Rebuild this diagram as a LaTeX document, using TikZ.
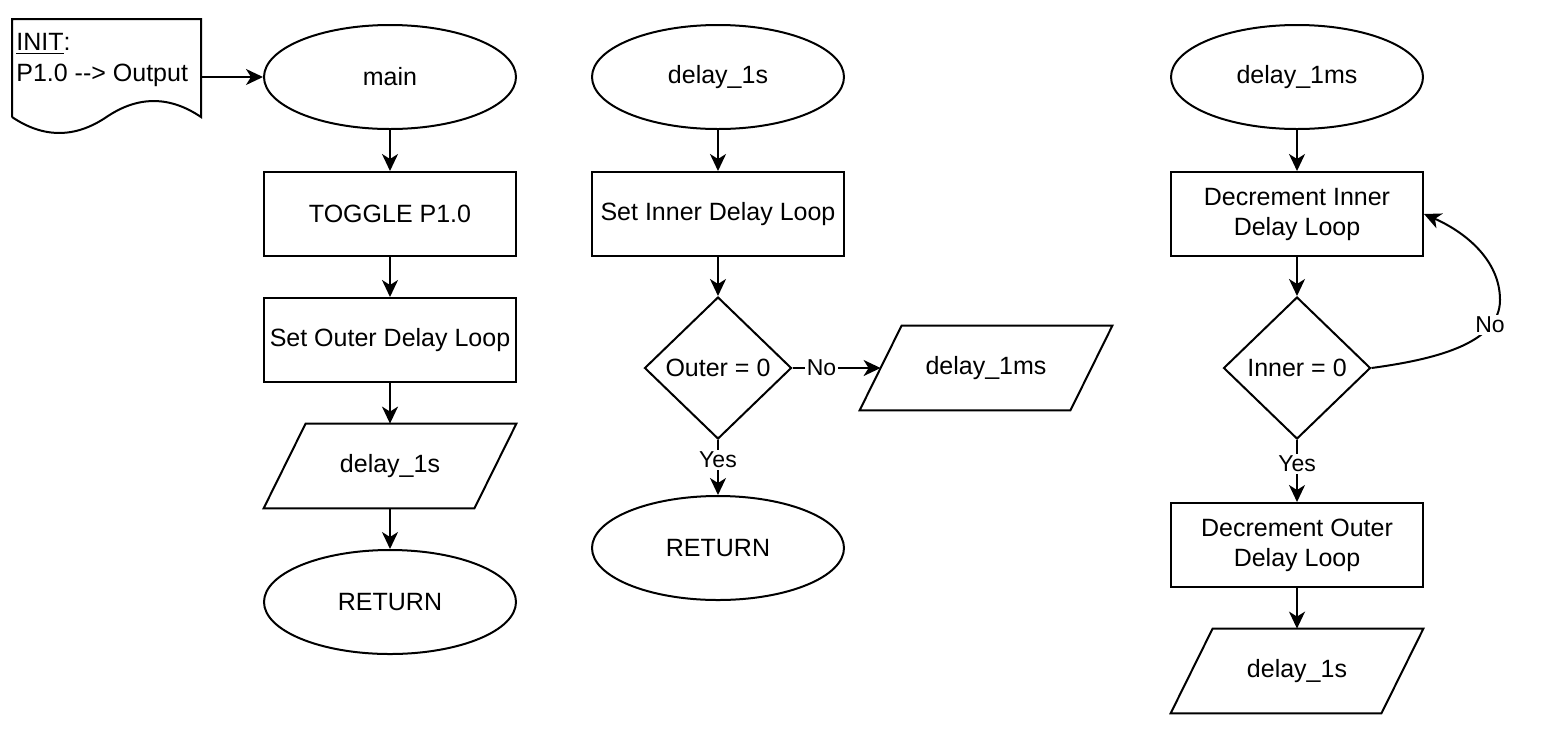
\documentclass[tikz,border=0pt]{standalone}
\usepackage{fontspec}
\setmainfont{Liberation Sans}
\usetikzlibrary{shapes.geometric,arrows.meta}
\newcommand\parashape[1]{\draw[base, line join=miter] ([xshift=21pt]#1.north west) -- (#1.north east) -- ([xshift=-21pt]#1.south east) -- (#1.south west) -- cycle;}
\begin{document}
\begin{tikzpicture}[x=0.5pt,y=-0.5pt,
  every node/.style={font=\fontsize{12.5}{15}\selectfont, text=black},
  base/.style={draw=black, line width=1pt},
  term/.style={base, ellipse, minimum width=126pt, minimum height=52pt, inner sep=0pt},
  proc/.style={base, rectangle, minimum width=126pt, minimum height=42pt, inner sep=0pt, align=center},
  dec/.style={base, diamond, minimum width=73.5pt, minimum height=71pt, inner sep=0pt},
  iobox/.style={rectangle, minimum width=126pt, minimum height=42pt, inner sep=0pt},
  flow/.style={line width=1pt, -{Stealth[length=8.5pt,width=8pt,inset=2.5pt]}},
  lbl/.style={fill=white, inner sep=1pt, font=\fontsize{11.5}{13}\selectfont},
]
\path[use as bounding box] (0,0) rectangle (1552,745);

% INIT document shape
\node[rectangle, minimum width=94.5pt, minimum height=49pt, inner sep=0pt] (doc) at (106.5,68) {};
\draw[base] (12,117) -- (12,19) -- (201,19) -- (201,117)
  .. controls (169.5,95.7) and (138,95.7) .. (106.5,117)
  .. controls (75,138.3) and (43.5,138.3) .. (12,117);
\node[anchor=west, align=left, inner sep=0pt] (inittext) at (16,60) {\underline{INIT}:\\[0.5pt]P1.0 -{}-{}> Output};

% column 1
\node[term] (main) at (390,77) {main};
\node[proc] (toggle) at (390,214) {TOGGLE P1.0};
\node[proc] (outer) at (390,340) {Set Outer Delay Loop};
\node[iobox] (d1s) at (390,466) {delay\_1s};
\parashape{d1s}
\node[term] (ret1) at (390,602) {RETURN};

\draw[flow] (doc.east |- main.west) -- (main.west);
\draw[flow] (main) -- (toggle);
\draw[flow] (toggle) -- (outer);
\draw[flow] (outer) -- (d1s);
\draw[flow] (d1s) -- (ret1);

% column 2
\node[term] (dsec) at (718,77) {delay\_1s};
\node[proc] (inner) at (718,214) {Set Inner Delay Loop};
\node[dec] (dec2) at (718,368) {Outer = 0};
\node[iobox] (d1ms) at (986,368) {delay\_1ms};
\parashape{d1ms}
\node[term] (ret2) at (718,548) {RETURN};

\draw[flow] (dsec) -- (inner);
\draw[flow] (inner) -- (dec2);
\draw[flow] (dec2.east) -- node[lbl, pos=0.33] {No} ([xshift=10.5pt]d1ms.west);
\draw[flow] (dec2.south) -- node[lbl, pos=0.36] {Yes} (ret2.north);

% column 3
\node[term] (dms) at (1297,77) {delay\_1ms};
\node[proc] (decin) at (1297,214) {Decrement Inner\\Delay Loop};
\node[dec] (dec3) at (1297,368) {Inner = 0};
\node[proc] (decout) at (1297,545) {Decrement Outer\\Delay Loop};
\node[iobox] (d1s2) at (1297,671) {delay\_1s};
\parashape{d1s2}

\draw[flow] (dms) -- (decin);
\draw[flow] (decin) -- (dec3);
\draw[flow] (dec3.south) -- node[lbl, pos=0.38] {Yes} (decout.north);
\draw[flow] (decout) -- (d1s2);
\draw[flow] (dec3.east) .. controls (1430,360) and (1500,345) .. (1500,300)
  .. controls (1500,260) and (1465,232) .. (decin.east);
\node[lbl] (nolbl) at (1490,325) {No};
\end{tikzpicture}
\end{document}
